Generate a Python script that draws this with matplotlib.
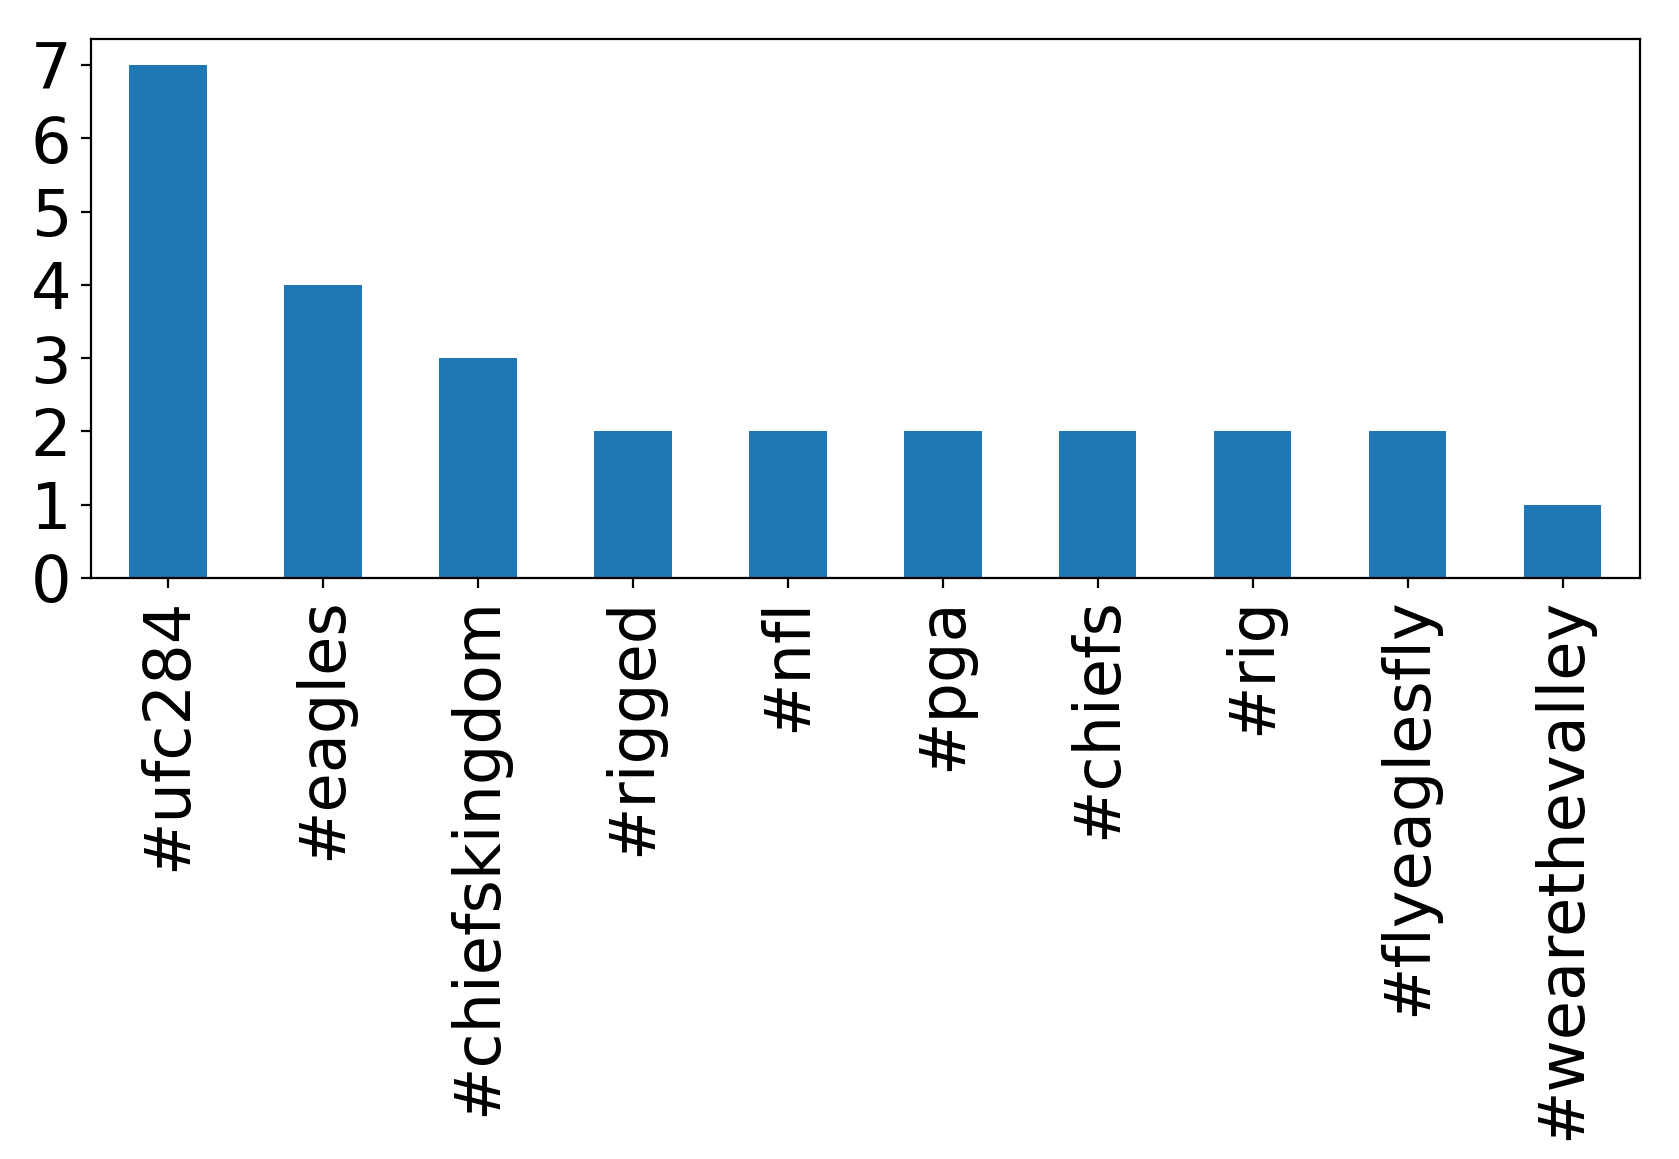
import matplotlib
matplotlib.use("Agg")
import matplotlib.pyplot as plt
import pandas as pd

hashtags = ["#ufc284", "#eagles", "#chiefskingdom", "#rigged", "#nfl",
            "#pga", "#chiefs", "#rig", "#flyeaglesfly", "#wearethevalley"]
counts = [7, 4, 3, 2, 2, 2, 2, 2, 2, 1]

s = pd.Series(counts, index=hashtags)

fig = plt.figure(figsize=(8.395, 5.795), dpi=200)
ax = fig.add_subplot(111)
s.plot(kind="bar", ax=ax, fontsize=23, color="#1f77b4")
ax.tick_params(axis="x", labelrotation=90)
fig.subplots_adjust(left=0.054, right=0.9768, top=0.966, bottom=0.5013)
fig.savefig("out.png", dpi=200)
